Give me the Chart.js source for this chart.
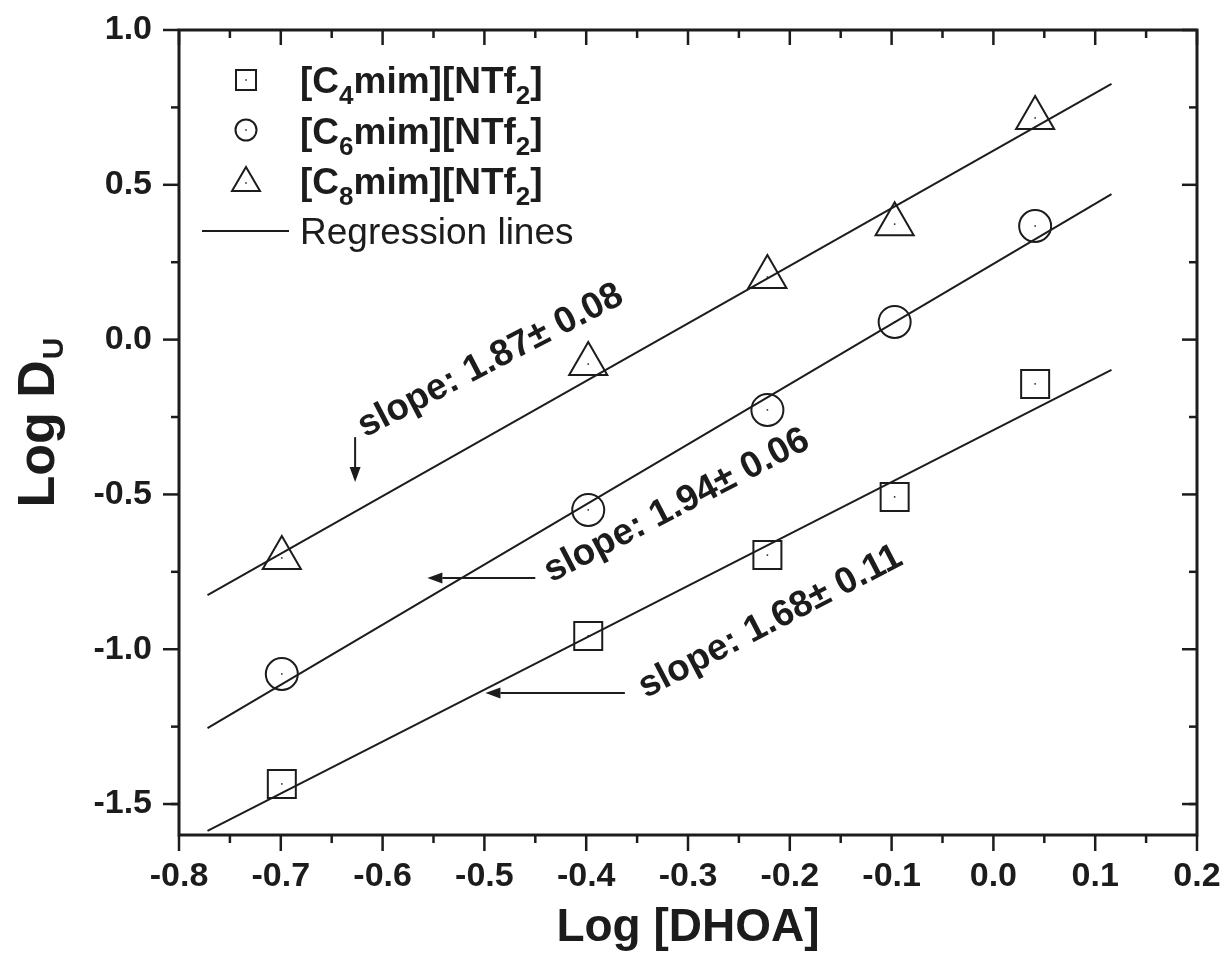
<!DOCTYPE html>
<html>
<head>
<meta charset="utf-8">
<script src="https://cdn.jsdelivr.net/npm/chart.js@4.4.0/dist/chart.umd.min.js"></script>
<style>
  html, body { margin: 0; padding: 0; background: #fff; }
  #wrap { width: 1226px; height: 961px; }
</style>
</head>
<body>
<div id="wrap"><canvas id="grafico" width="1226" height="961"></canvas></div>
<script>
// valores
const logDHOA = [-0.699, -0.398, -0.222, -0.097, 0.041];
const c4Values = [-1.435, -0.957, -0.696, -0.508, -0.143];
const c6Values = [-1.080, -0.550, -0.227, 0.057, 0.367];
const c8Values = [-0.705, -0.079, 0.202, 0.373, 0.716];

// extremos das retas de regressao
const fitX = [-0.772, 0.116];
const c4Fit = [-1.587, -0.098];
const c6Fit = [-1.255, 0.470];
const c8Fit = [-0.825, 0.826];

const xTickValues = [-0.8, -0.7, -0.6, -0.5, -0.4, -0.3, -0.2, -0.1, 0.0, 0.1, 0.2];
const xTickLabels = ["-0.8", "-0.7", "-0.6", "-0.5", "-0.4", "-0.3", "-0.2", "-0.1", "0.0", "0.1", "0.2"];
const yTickValues = [-1.5, -1.0, -0.5, 0.0, 0.5, 1.0];
const yTickLabels = ["-1.5", "-1.0", "-0.5", "0.0", "0.5", "1.0"];

const slopeTexts = ["slope: 1.87\u00b1 0.08", "slope: 1.94\u00b1 0.06", "slope: 1.68\u00b1 0.11"];

const INK = "#1c1c1c";
const FONT = "'Liberation Sans', Arial, Helvetica, sans-serif";

// posicoes das anotacoes (em unidades dos eixos)
const notas = [
  { text: slopeTexts[0], x: -0.494, y: -0.069 },
  { text: slopeTexts[1], x: -0.311, y: -0.537 },
  { text: slopeTexts[2], x: -0.219, y: -0.912 },
];
const setas = [
  { x1: -0.627, y1: -0.315, x2: -0.627, y2: -0.46 },
  { x1: -0.450, y1: -0.770, x2: -0.556, y2: -0.770 },
  { x1: -0.362, y1: -1.141, x2: -0.499, y2: -1.141 },
];

const pontos = (vals) => logDHOA.map((x, i) => ({ x: x, y: vals[i] }));
const reta = (vals) => fitX.map((x, i) => ({ x: x, y: vals[i] }));

function linha(ctx, x1, y1, x2, y2) {
  ctx.beginPath();
  ctx.moveTo(x1, y1);
  ctx.lineTo(x2, y2);
  ctx.stroke();
}

function seta(ctx, x1, y1, x2, y2) {
  const ang = Math.atan2(y2 - y1, x2 - x1);
  const len = 15, half = 5.5;
  const bx = x2 - Math.cos(ang) * len, by = y2 - Math.sin(ang) * len;
  ctx.lineWidth = 2;
  linha(ctx, x1, y1, bx, by);
  ctx.beginPath();
  ctx.moveTo(x2, y2);
  ctx.lineTo(bx - Math.sin(ang) * half, by + Math.cos(ang) * half);
  ctx.lineTo(bx + Math.sin(ang) * half, by - Math.cos(ang) * half);
  ctx.closePath();
  ctx.fill();
}

// texto com indices (subscritos)
function textoSub(ctx, partes, x, y, size, weight) {
  let cx = x;
  partes.forEach((p) => {
    if (p.sub) {
      ctx.font = weight + " " + Math.round(size * 0.7) + "px " + FONT;
      ctx.fillText(p.t, cx, y + size * 0.3);
    } else {
      ctx.font = weight + " " + size + "px " + FONT;
      ctx.fillText(p.t, cx, y);
    }
    cx += ctx.measureText(p.t).width;
  });
}

const moldura = {
  id: "moldura",
  afterDatasetsDraw(chart) {
    const ctx = chart.ctx;
    ctx.save();
    ctx.fillStyle = INK;
    [0, 1, 2].forEach((d) => {
      chart.getDatasetMeta(d).data.forEach((el) => {
        ctx.fillRect(el.x - 0.75, el.y - 0.75, 1.5, 1.5);
      });
    });
    ctx.restore();
  },
  afterDraw(chart) {
    const { ctx, chartArea: a, scales: { x, y } } = chart;
    ctx.save();
    ctx.strokeStyle = INK;
    ctx.fillStyle = INK;

    // tracinhos: fora em baixo/esquerda, dentro em cima/direita
    ctx.lineWidth = 2.5;
    xTickValues.forEach((v, i) => {
      const px = x.getPixelForValue(v);
      linha(ctx, px, a.bottom, px, a.bottom + 16);
      linha(ctx, px, a.top, px, a.top + 15);
      if (i < xTickValues.length - 1) {
        const pm = x.getPixelForValue((v + xTickValues[i + 1]) / 2);
        linha(ctx, pm, a.bottom, pm, a.bottom + 8);
        linha(ctx, pm, a.top, pm, a.top + 8);
      }
    });
    const yAll = [yTickValues[0] - 0.25].concat(yTickValues);
    yAll.forEach((v, i) => {
      const py = y.getPixelForValue(v);
      if (i > 0) {
        linha(ctx, a.left, py, a.left - 16, py);
        linha(ctx, a.right, py, a.right - 15, py);
      }
      if (i < yAll.length - 1) {
        const pm = y.getPixelForValue(v + 0.25);
        linha(ctx, a.left, pm, a.left - 8, pm);
        linha(ctx, a.right, pm, a.right - 8, pm);
      }
    });
    ctx.lineWidth = 3;
    ctx.strokeRect(a.left, a.top, a.right - a.left, a.bottom - a.top);

    // titulo do eixo y
    ctx.save();
    ctx.translate(54, 423);
    ctx.rotate(-Math.PI / 2);
    ctx.textBaseline = "alphabetic";
    ctx.font = "bold 52px " + FONT;
    const w1 = ctx.measureText("Log D").width;
    ctx.font = "bold 30px " + FONT;
    const w2 = ctx.measureText("U").width;
    const x0 = -(w1 + w2) / 2;
    ctx.font = "bold 52px " + FONT;
    ctx.fillText("Log D", x0, 0);
    ctx.font = "bold 30px " + FONT;
    ctx.fillText("U", x0 + w1 + 1, 9);
    ctx.restore();

    // legenda
    ctx.lineWidth = 2;
    const lx = 246;
    ctx.strokeRect(lx - 10, 70, 20, 20);
    ctx.beginPath();
    ctx.arc(lx, 130, 10.5, 0, Math.PI * 2);
    ctx.stroke();
    ctx.beginPath();
    ctx.moveTo(lx, 167);
    ctx.lineTo(lx + 14, 191);
    ctx.lineTo(lx - 14, 191);
    ctx.closePath();
    ctx.stroke();
    [80, 130, 183].forEach((yy) => ctx.fillRect(lx - 0.75, yy - 0.75, 1.5, 1.5));
    linha(ctx, 202, 231, 289, 231);

    ctx.textBaseline = "alphabetic";
    ctx.textAlign = "left";
    textoSub(ctx, [{ t: "[C" }, { t: "4", sub: true }, { t: "mim][NTf" }, { t: "2", sub: true }, { t: "]" }], 300, 93, 37, "bold");
    textoSub(ctx, [{ t: "[C" }, { t: "6", sub: true }, { t: "mim][NTf" }, { t: "2", sub: true }, { t: "]" }], 300, 144, 37, "bold");
    textoSub(ctx, [{ t: "[C" }, { t: "8", sub: true }, { t: "mim][NTf" }, { t: "2", sub: true }, { t: "]" }], 300, 194, 37, "bold");
    ctx.font = "37px " + FONT;
    ctx.fillText("Regression lines", 300, 244);

    // inclinacoes e setas
    notas.forEach((n) => {
      ctx.save();
      ctx.translate(x.getPixelForValue(n.x), y.getPixelForValue(n.y));
      ctx.rotate(-27.5 * Math.PI / 180);
      ctx.font = "bold 37px " + FONT;
      ctx.textAlign = "center";
      ctx.textBaseline = "middle";
      ctx.fillText(n.text, 0, 0);
      ctx.restore();
    });
    setas.forEach((s) => {
      seta(ctx, x.getPixelForValue(s.x1), y.getPixelForValue(s.y1),
        x.getPixelForValue(s.x2), y.getPixelForValue(s.y2));
    });
    ctx.restore();
  },
};

const ctx = document.getElementById("grafico").getContext("2d");

const marcador = {
  borderColor: INK,
  backgroundColor: "rgba(0,0,0,0)",
  borderWidth: 2,
  showLine: false,
};
const regressao = {
  borderColor: INK,
  backgroundColor: INK,
  borderWidth: 2,
  pointRadius: 0,
  showLine: true,
  fill: false,
};

const grafico = new Chart(ctx, {
  type: "scatter",
  data: {
    datasets: [
      Object.assign({ label: "[C4mim][NTf2]", data: pontos(c4Values), pointStyle: "rect", pointRadius: 19.8 }, marcador),
      Object.assign({ label: "[C6mim][NTf2]", data: pontos(c6Values), pointStyle: "circle", pointRadius: 16 }, marcador),
      Object.assign({ label: "[C8mim][NTf2]", data: pontos(c8Values), pointStyle: "triangle", pointRadius: 22 }, marcador),
      Object.assign({ label: "Regression C4", data: reta(c4Fit) }, regressao),
      Object.assign({ label: "Regression C6", data: reta(c6Fit) }, regressao),
      Object.assign({ label: "Regression C8", data: reta(c8Fit) }, regressao),
    ],
  },
  options: {
    responsive: false,
    animation: false,
    events: [],
    layout: { padding: { left: 0, right: 29, top: 30, bottom: 0 } },
    plugins: {
      legend: { display: false },
      tooltip: { enabled: false },
    },
    scales: {
      x: {
        type: "linear",
        min: -0.8,
        max: 0.2,
        afterBuildTicks: (s) => { s.ticks = xTickValues.map((v) => ({ value: v })); },
        afterFit: (s) => {
          s.height = 126;
          s.paddingLeft = 0;
          s.paddingRight = 0;
        },
        grid: { display: false, drawTicks: false },
        border: { display: false },
        ticks: {
          padding: 21,
          color: INK,
          autoSkip: false,
          maxRotation: 0,
          font: { family: FONT, size: 34, weight: "bold" },
          callback: (v, i) => xTickLabels[i],
        },
        title: {
          display: true,
          text: "Log [DHOA]",
          color: INK,
          font: { family: FONT, size: 46, weight: "bold" },
          padding: { top: 0, bottom: 5 },
        },
      },
      y: {
        type: "linear",
        min: -1.6,
        max: 1.0,
        afterBuildTicks: (s) => { s.ticks = yTickValues.map((v) => ({ value: v })); },
        afterFit: (s) => {
          s.width = 179;
          s.paddingTop = 0;
          s.paddingBottom = 0;
        },
        grid: { display: false, drawTicks: false },
        border: { display: false },
        ticks: {
          padding: 27,
          color: INK,
          autoSkip: false,
          font: { family: FONT, size: 34, weight: "bold" },
          callback: (v, i) => yTickLabels[i],
        },
      },
    },
  },
  plugins: [moldura],
});
</script>
</body>
</html>
